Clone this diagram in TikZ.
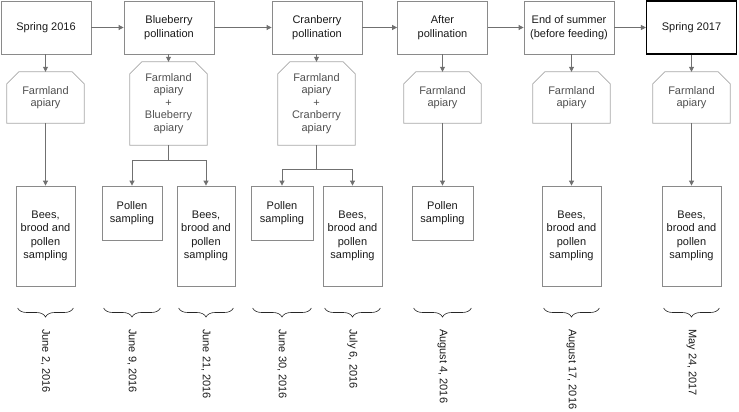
\documentclass[tikz,border=0pt]{standalone}
\usepackage{fontspec}
\setmainfont{Liberation Sans}
\usetikzlibrary{arrows.meta,decorations.pathreplacing,calc}
\definecolor{boxline}{HTML}{8A8A8A}
\definecolor{hexline}{HTML}{A8A8A8}
\definecolor{connc}{HTML}{707070}
\definecolor{hextext}{HTML}{505050}
\definecolor{txt}{HTML}{1A1A1A}
\begin{document}
\begin{tikzpicture}[x=1pt,y=-1pt,
  font=\fontsize{11}{13.5}\selectfont,
  box/.style={draw=boxline, line width=0.8pt, fill=white, align=center, inner sep=0pt, text=txt},
  topbox/.style={box, minimum width=90pt, minimum height=53pt},
  hexbox/.style={align=center, inner sep=0pt, text=hextext, minimum width=77pt, font=\fontsize{11}{12.5}\selectfont},
  hexline/.style={draw=hexline, line width=0.8pt},
  bees/.style={box, minimum width=59pt, minimum height=100pt},
  pollen/.style={box, minimum height=54pt},
  conn/.style={draw=connc, line width=0.8pt, -{Triangle[length=5pt,width=5pt]}},
  bracestyle/.style={draw=black!85, line width=0.6pt, decorate, decoration={brace, mirror, amplitude=9pt}},
  datelbl/.style={rotate=-90, anchor=west, inner sep=0pt, text=txt}
]
\useasboundingbox (0,0) rectangle (739,412);

% top row
\node[topbox] (t1) at (46,27.5) {Spring 2016};
\node[topbox] (t2) at (169,27.5) {Blueberry\\pollination};
\node[topbox] (t3) at (317,27.5) {Cranberry\\pollination};
\node[topbox] (t4) at (442.5,27.5) {After\\pollination};
\node[topbox] (t5) at (569,27.5) {End of summer\\(before feeding)};
\node[topbox, draw=black, line width=1.1pt] (t6) at (691.5,27.5) {Spring 2017};

\draw[conn] (t1) -- (t2);
\draw[conn] (t2) -- (t3);
\draw[conn] (t3) -- (t4);
\draw[conn] (t4) -- (t5);
\draw[conn] (t5) -- (t6);

% apiary shapes
\node[hexbox, minimum height=51pt] (h1) at (45.5,97.5) {Farmland\\apiary};
\node[hexbox, minimum height=83pt] (h2) at (168.5,103.5) {Farmland\\apiary\\+\\Blueberry\\apiary};
\node[hexbox, minimum height=83pt] (h3) at (316.5,103.5) {Farmland\\apiary\\+\\Cranberry\\apiary};
\node[hexbox, minimum height=51pt] (h4) at (442.5,97.5) {Farmland\\apiary};
\node[hexbox, minimum height=51pt] (h5) at (571.5,97.5) {Farmland\\apiary};
\node[hexbox, minimum height=51pt] (h6) at (691.5,97.5) {Farmland\\apiary};

\foreach \n in {h1,h2,h3,h4,h5,h6}
  \draw[hexline] ([yshift=-12pt]\n.north west) -- ([xshift=12pt]\n.north west)
    -- ([xshift=-12pt]\n.north east) -- ([yshift=-12pt]\n.north east)
    -- (\n.south east) -- (\n.south west) -- cycle;

\foreach \a/\b in {t1/h1,t2/h2,t3/h3,t4/h4,t5/h5,t6/h6}
  \draw[conn] (\a.south -| \b.north) -- (\b.north);

% sampling boxes
\node[bees] (b1) at (45.5,236) {Bees,\\brood and\\pollen\\sampling};
\node[pollen, minimum width=60pt] (p2) at (132,213) {Pollen\\sampling};
\node[bees, minimum width=58pt] (b2) at (206,236) {Bees,\\brood and\\pollen\\sampling};
\node[pollen, minimum width=62pt] (p3) at (282,213) {Pollen\\sampling};
\node[bees] (b3) at (352.5,236) {Bees,\\brood and\\pollen\\sampling};
\node[pollen, minimum width=61pt] (p4) at (442.5,213) {Pollen\\sampling};
\node[bees] (b5) at (571.5,236) {Bees,\\brood and\\pollen\\sampling};
\node[bees] (b6) at (691.5,236) {Bees,\\brood and\\pollen\\sampling};

\draw[conn] (h1.south) -- (h1.south |- b1.north);
\draw[conn] (h4.south) -- (h4.south |- p4.north);
\draw[conn] (h5.south) -- (h5.south |- b5.north);
\draw[conn] (h6.south) -- (h6.south |- b6.north);
\draw[conn] (h2.south) -- ++(0,15) -| (p2.north);
\draw[conn] (h2.south) -- ++(0,15) -| (b2.north);
\draw[conn] (h3.south) -- ++(0,24) -| (p3.north);
\draw[conn] (h3.south) -- ++(0,24) -| (b3.north);

% braces and dates
\coordinate (bl) at (0,308);
\coordinate (dl) at (0,329);
\foreach \n/\d in {b1/{June 2, 2016},p2/{June 9, 2016},b2/{June 21, 2016},p3/{June 30, 2016},b3/{July 6, 2016},p4/{August 4, 2016},b5/{August 17, 2016},b6/{May 24, 2017}}{
  \draw[bracestyle] ([xshift=2pt]\n.west |- bl) -- ([xshift=-2pt]\n.east |- bl);
  \node[datelbl] (d\n) at (\n.center |- dl) {\d};
}
\end{tikzpicture}
\end{document}
